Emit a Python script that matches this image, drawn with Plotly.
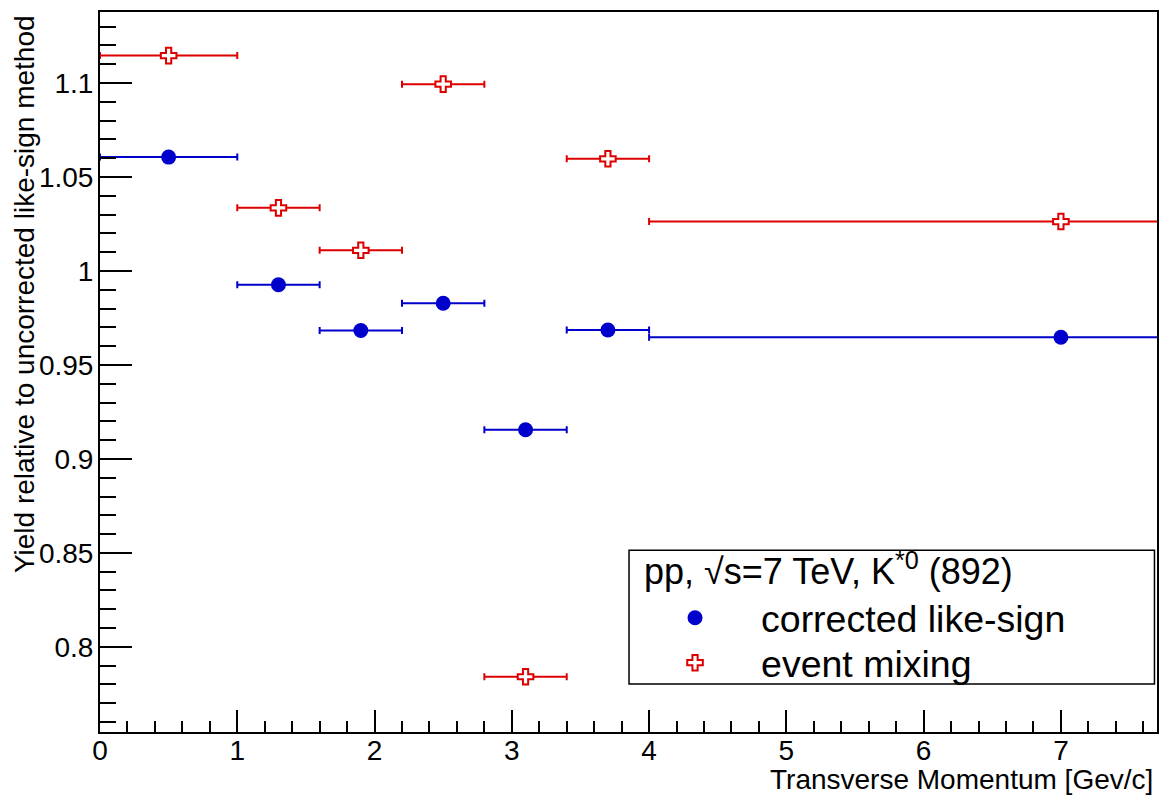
import plotly.graph_objects as go

# ---- data ----
pt_low = [0.0, 1.0, 1.6, 2.2, 2.8, 3.4, 4.0]
pt_high = [1.0, 1.6, 2.2, 2.8, 3.4, 4.0, 10.0]
pt_center = [0.5, 1.3, 1.9, 2.5, 3.1, 3.7, 7.0]
corrected_like_sign = [1.0606, 0.9927, 0.9683, 0.9828, 0.9155, 0.9686, 0.9647]
event_mixing = [1.1146, 1.0336, 1.0110, 1.0994, 0.7841, 1.0597, 1.0263]
y_tick_vals = [0.8, 0.85, 0.9, 0.95, 1.0, 1.05, 1.1]
y_tick_text = ["0.8", "0.85", "0.9", "0.95", "1", "1.05", "1.1"]

FONT = "Liberation Sans, Arial, Helvetica, sans-serif"
BLUE = "#0000cc"
RED = "#dd0000"

err_plus = [h - c for h, c in zip(pt_high, pt_center)]
err_minus = [c - l for c, l in zip(pt_center, pt_low)]

fig = go.Figure()

fig.add_trace(go.Scatter(
    x=pt_center, y=corrected_like_sign, mode="markers",
    name="corrected like-sign", legend="legend",
    marker=dict(symbol="circle", size=15, color=BLUE, line=dict(width=0)),
    error_x=dict(type="data", symmetric=False, array=err_plus, arrayminus=err_minus,
                 color=BLUE, thickness=2, width=3.5),
))
fig.add_trace(go.Scatter(
    x=pt_center, y=event_mixing, mode="markers",
    name="event mixing", legend="legend2",
    marker=dict(symbol="cross", size=13, color="white", line=dict(width=2, color=RED)),
    error_x=dict(type="data", symmetric=False, array=err_plus, arrayminus=err_minus,
                 color=RED, thickness=2, width=3.5),
))

axis_common = dict(
    showgrid=False, zeroline=False, showline=True, linecolor="black", linewidth=2,
    mirror=True, ticks="inside", tickcolor="black", tickwidth=2,
    tickfont=dict(family=FONT, size=28, color="black"),
)

fig.update_xaxes(
    range=[0, 7.7], tickmode="linear", tick0=0, dtick=1, ticklen=22,
    ticklabelstandoff=-8,
    minor=dict(ticks="inside", tickmode="linear", tick0=0, dtick=0.2, ticklen=11,
               tickwidth=2, tickcolor="black", showgrid=False),
    **axis_common,
)
fig.update_yaxes(
    range=[0.7547, 1.1378], tickmode="array", tickvals=y_tick_vals, ticktext=y_tick_text,
    ticklen=32, ticklabelstandoff=-1,
    minor=dict(ticks="inside", tickmode="linear", tick0=0.8, dtick=0.01, ticklen=16,
               tickwidth=2, tickcolor="black", showgrid=False),
    **axis_common,
)

legend_common = dict(
    xref="paper", yref="paper", xanchor="left", yanchor="middle",
    bgcolor="rgba(0,0,0,0)", borderwidth=0, itemwidth=122,
    font=dict(family=FONT, size=37.5, color="black"),
)

fig.update_layout(
    width=1169, height=796,
    margin=dict(l=100, r=10, t=11, b=64),
    paper_bgcolor="white", plot_bgcolor="white",
    showlegend=True,
    legend=dict(x=0.5005, y=0.1585, **legend_common),
    legend2=dict(x=0.5005, y=0.0961, **legend_common),
    shapes=[dict(type="rect", xref="paper", yref="paper",
                 x0=0.5005, x1=0.9976, y0=0.0666, y1=0.2524,
                 line=dict(color="black", width=1.5), fillcolor="rgba(0,0,0,0)")],
    annotations=[
        dict(text="pp, √s=7 TeV, K<sup>*0</sup> (892)", xref="paper", yref="paper",
             x=0.5125, y=0.2263, xanchor="left", yanchor="middle", showarrow=False,
             font=dict(family=FONT, size=36, color="black")),
        dict(text="Yield relative to uncorrected like-sign method", xref="paper", yref="paper",
             x=-0.0718, y=0.9986, xanchor="center", yanchor="top", textangle=-90,
             showarrow=False, font=dict(family=FONT, size=28, color="black")),
        dict(text="Transverse Momentum [Gev/c]", xref="paper", yref="paper",
             x=0.9981, y=-0.0666, xanchor="right", yanchor="middle", showarrow=False,
             font=dict(family=FONT, size=28, color="black")),
    ],
)

fig.write_html("out.html")
